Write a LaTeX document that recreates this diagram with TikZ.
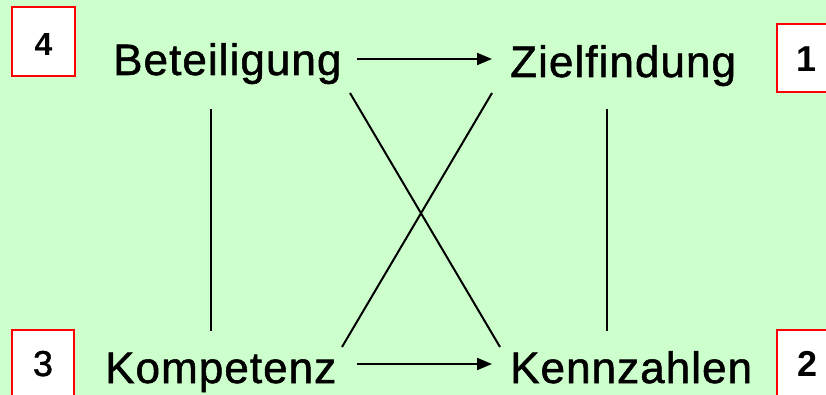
\documentclass[tikz,border=0pt]{standalone}
\usepackage{fontspec}
\setmainfont{Liberation Sans}
\newfontfamily\lblfont[LetterSpace=2.4,FakeBold=1.2]{Liberation Sans}
\newfontfamily\digfont[FakeBold=1.2]{Liberation Sans}
\usetikzlibrary{arrows.meta}
\definecolor{bgpale}{HTML}{CCFFCC}
\definecolor{boxred}{HTML}{FF0000}
\begin{document}
\begin{tikzpicture}[x=1pt,y=-1pt,
  label/.style={inner sep=0pt,anchor=base west,font=\lblfont\fontsize{44}{50}\selectfont},
  numbox/.style={draw=boxred,fill=white,line width=2pt},
  num/.style={inner sep=0pt,anchor=base},
  link/.style={line width=2pt,black},
  arr/.style={link,-{Triangle[length=15pt,width=12pt]}}]
  % background
  \fill[bgpale] (0,0) rectangle (826,395);
  \useasboundingbox (0,0) rectangle (826,395);

  % numbered corner boxes
  \draw[numbox] (12,7) rectangle (75,76);
  \node[num,font=\fontsize{32}{34}\bfseries\selectfont] (n4) at (43.5,56) {4};
  \draw[numbox] (777,24) rectangle (840,92);
  \node[num,font=\fontsize{36}{38}\bfseries\selectfont] (n1) at (806.5,72) {1};
  \draw[numbox] (12,330) rectangle (74,402);
  \node[num,font=\digfont\fontsize{36}{38}\selectfont] (n3) at (43,376) {3};
  \draw[numbox] (777,330) rectangle (840,402);
  \node[num,font=\fontsize{36}{38}\bfseries\selectfont] (n2) at (807.5,376) {2};

  % labels
  \node[label] (bet) at (113,75) {Beteiligung};
  \node[label] (ziel) at (510,77) {Zielfindung};
  \node[label] (komp) at (105,383) {Kompetenz};
  \node[label] (kenn) at (510,383) {Kennzahlen};

  % connector end points
  \coordinate (betR) at (357,59);
  \coordinate (zielL) at (492,59);
  \coordinate (kompR) at (357,364);
  \coordinate (kennL) at (492,364);
  \coordinate (betB) at (210.7,109);
  \coordinate (kompT) at (210.7,331);
  \coordinate (zielB) at (607,109);
  \coordinate (kennT) at (607,331);
  \coordinate (betX) at (350,93);
  \coordinate (kennX) at (500,347);
  \coordinate (zielX) at (492,93);
  \coordinate (kompX) at (342,347);

  % connectors
  \draw[arr] (betR) -- (zielL);
  \draw[arr] (kompR) -- (kennL);
  \draw[link] (betB) -- (kompT);
  \draw[link] (zielB) -- (kennT);
  \draw[link] (betX) -- (kennX);
  \draw[link] (zielX) -- (kompX);
\end{tikzpicture}
\end{document}
